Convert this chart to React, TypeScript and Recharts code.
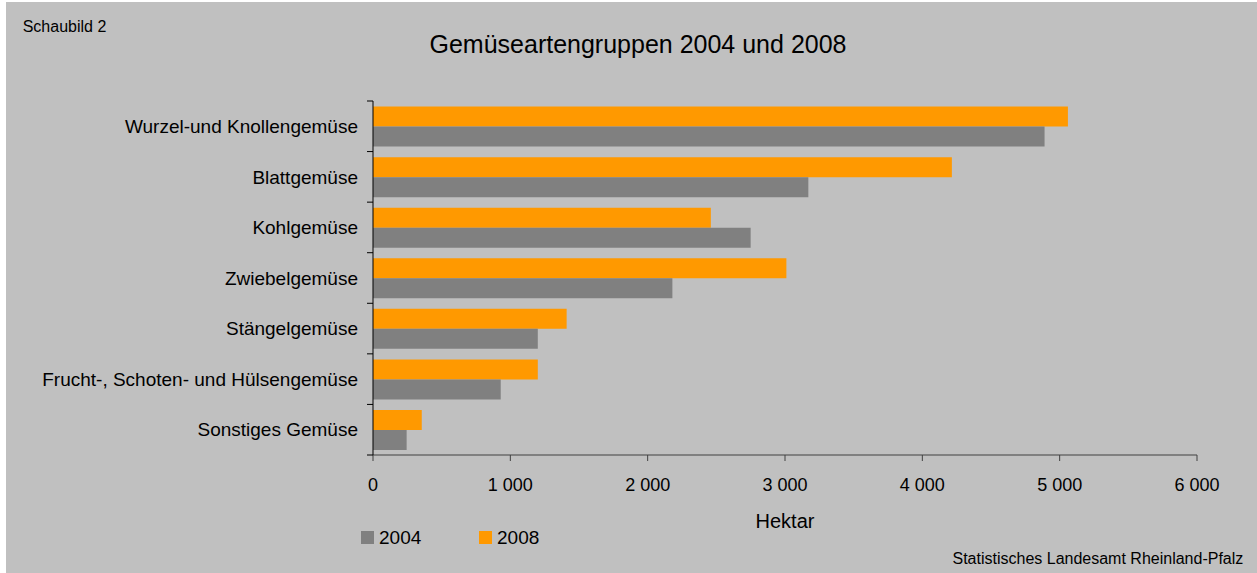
import React from 'react';
import { BarChart, Bar, XAxis, YAxis, Legend } from 'recharts';

const categories = [
  'Wurzel-und Knollengemüse',
  'Blattgemüse',
  'Kohlgemüse',
  'Zwiebelgemüse',
  'Stängelgemüse',
  'Frucht-, Schoten- und Hülsengemüse',
  'Sonstiges Gemüse',
];
const values2004 = [4890, 3170, 2750, 2180, 1200, 930, 245];
const values2008 = [5060, 4215, 2460, 3010, 1410, 1200, 355];
const xTicks = [0, 1000, 2000, 3000, 4000, 5000, 6000];

const data = categories.map((name, i) => ({ name, v2004: values2004[i], v2008: values2008[i] }));

const W = 1251;
const H = 571;
const MARGIN = { top: 99, right: 60, bottom: 37, left: 0 };
const X_AXIS_H = 81;
const Y_AXIS_W = 367;
const PLOT_H = H - MARGIN.top - MARGIN.bottom - X_AXIS_H;
const BAND = PLOT_H / categories.length;
const FONT = '"Liberation Sans", Arial, Helvetica, sans-serif';

const fmt = (v: number) => String(v).replace(/\B(?=(\d{3})+(?!\d))/g, ' ');

const YTick = (props: any) => {
  const { x, y, payload, index } = props;
  const half = BAND / 2;
  return (
    <g>
      <text x={x - 15} y={y} dy="0.355em" textAnchor="end" fontSize={19} fill="#000" fontFamily={FONT}>
        {payload.value}
      </text>
      <line x1={x - 6} x2={x} y1={y - half} y2={y - half} stroke="#000" strokeWidth={1} />
      {index === categories.length - 1 && (
        <line x1={x - 6} x2={x} y1={y + half} y2={y + half} stroke="#000" strokeWidth={1} />
      )}
    </g>
  );
};

const LegendContent = (props: any) => {
  const items = [...(props.payload || [])].sort((a: any, b: any) => String(a.value).localeCompare(String(b.value)));
  return (
    <div style={{ display: 'flex', fontFamily: FONT }}>
      {items.map((it: any) => (
        <div key={it.value} style={{ display: 'flex', alignItems: 'center', width: 118 }}>
          <div style={{ width: 13, height: 13, background: it.color, marginRight: 5 }} />
          <span style={{ fontSize: 19, lineHeight: '19px', color: '#000' }}>{it.value}</span>
        </div>
      ))}
    </div>
  );
};

export default function App() {
  return (
    <div style={{ position: 'absolute', left: 6, top: 2, width: W, height: H, background: '#C0C0C0', fontFamily: FONT }}>
      <BarChart
        width={W}
        height={H}
        data={data}
        layout="vertical"
        margin={MARGIN}
        barGap={0}
        barCategoryGap="11%"
      >
        <XAxis
          type="number"
          domain={[0, 6000]}
          ticks={xTicks}
          tickFormatter={fmt}
          height={X_AXIS_H}
          tickSize={6}
          tickMargin={17}
          axisLine={{ stroke: '#404040' }}
          tickLine={{ stroke: '#404040' }}
          tick={{ fill: '#000', fontSize: 18, fontFamily: FONT }}
          label={{ value: 'Hektar', position: 'insideBottom', offset: 8, fill: '#000', fontSize: 20, fontFamily: FONT }}
        />
        <YAxis
          type="category"
          dataKey="name"
          width={Y_AXIS_W}
          tickSize={0}
          tickMargin={0}
          tickLine={false}
          axisLine={{ stroke: '#000' }}
          tick={<YTick />}
          interval={0}
        />
        <Legend
          layout="horizontal"
          verticalAlign="middle"
          align="center"
          content={<LegendContent />}
          wrapperStyle={{ left: 355, top: 526, width: 300 }}
        />
        <Bar dataKey="v2008" name="2008" fill="#FF9900" isAnimationActive={false} />
        <Bar dataKey="v2004" name="2004" fill="#808080" isAnimationActive={false} />
      </BarChart>
      <svg width={W} height={H} style={{ position: 'absolute', left: 0, top: 0, pointerEvents: 'none' }}>
        <text x={16.7} y={30} fontSize={16} fill="#000" fontFamily={FONT}>Schaubild 2</text>
        <text x={632} y={51.3} fontSize={25} fill="#000" textAnchor="middle" fontFamily={FONT}>
          Gemüseartengruppen 2004 und 2008
        </text>
        <text x={1237.3} y={562} fontSize={16} fill="#000" textAnchor="end" fontFamily={FONT}>
          Statistisches Landesamt Rheinland-Pfalz
        </text>
      </svg>
    </div>
  );
}
